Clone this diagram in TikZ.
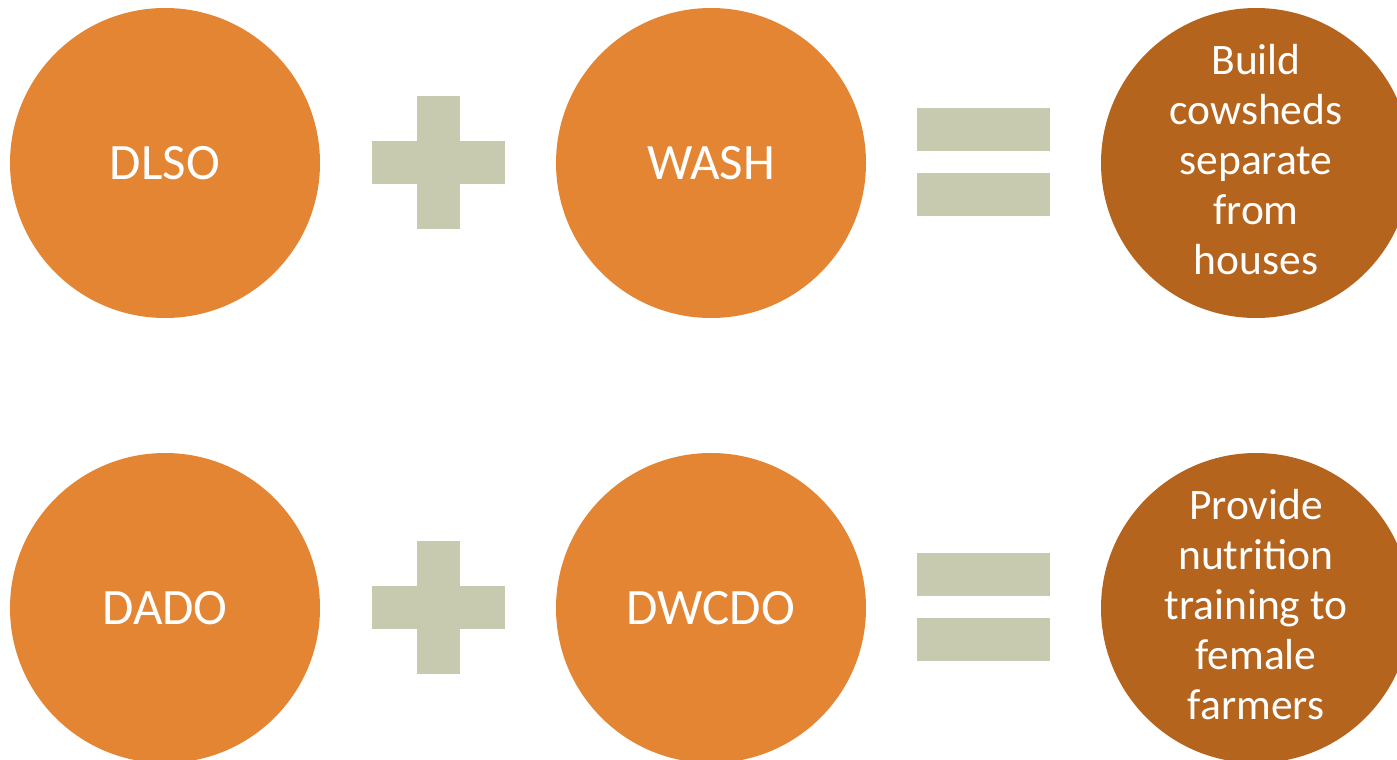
\documentclass[tikz,border=0pt]{standalone}
\usepackage{fontspec}
\setmainfont{Carlito}
\definecolor{orangeA}{HTML}{E38533}
\definecolor{brownA}{HTML}{B5641E}
\definecolor{sageA}{HTML}{C7CAAF}
\tikzset{
  bigcirc/.style={circle, fill=orangeA, minimum size=310pt, inner sep=0pt, text=white, font=\fontsize{51}{60}\selectfont},
  rescirc/.style={circle, fill=brownA, minimum size=310pt, inner sep=0pt, text=white, align=center, font=\fontsize{43.5}{50}\selectfont},
  sagebar/.style={fill=sageA, draw=none}
}
\begin{document}
\begin{tikzpicture}[x=1pt,y=-1pt]
\useasboundingbox (0,0) rectangle (1397,760);
\clip (0,0) rectangle (1397,760);
% top row
\node[bigcirc] (dlso) at (165,163) {DLSO};
\node[bigcirc] (wash) at (711,163) {WASH};
\node[rescirc] (res1) at (1256,163) {};
\node[text=white, align=center, font=\fontsize{43.5}{50}\selectfont] (res1t) at (1256,160) {Build\\cowsheds\\separate\\from\\houses};
\fill[sagebar] (417,96) rectangle (460,229);
\fill[sagebar] (372,141) rectangle (505,184);
\fill[sagebar] (917,108) rectangle (1050,151);
\fill[sagebar] (917,173) rectangle (1050,216);
% bottom row
\node[bigcirc] (dado) at (165,608) {DADO};
\node[bigcirc] (dwcdo) at (711,608) {DWCDO};
\node[rescirc] (res2) at (1256,608) {};
\node[text=white, align=center, font=\fontsize{43.5}{50}\selectfont] (res2t) at (1256,605) {Provide\\nutrition\\training to\\female\\farmers};
\fill[sagebar] (417,541) rectangle (460,674);
\fill[sagebar] (372,586) rectangle (505,629);
\fill[sagebar] (917,553) rectangle (1050,596);
\fill[sagebar] (917,618) rectangle (1050,661);
\end{tikzpicture}
\end{document}
